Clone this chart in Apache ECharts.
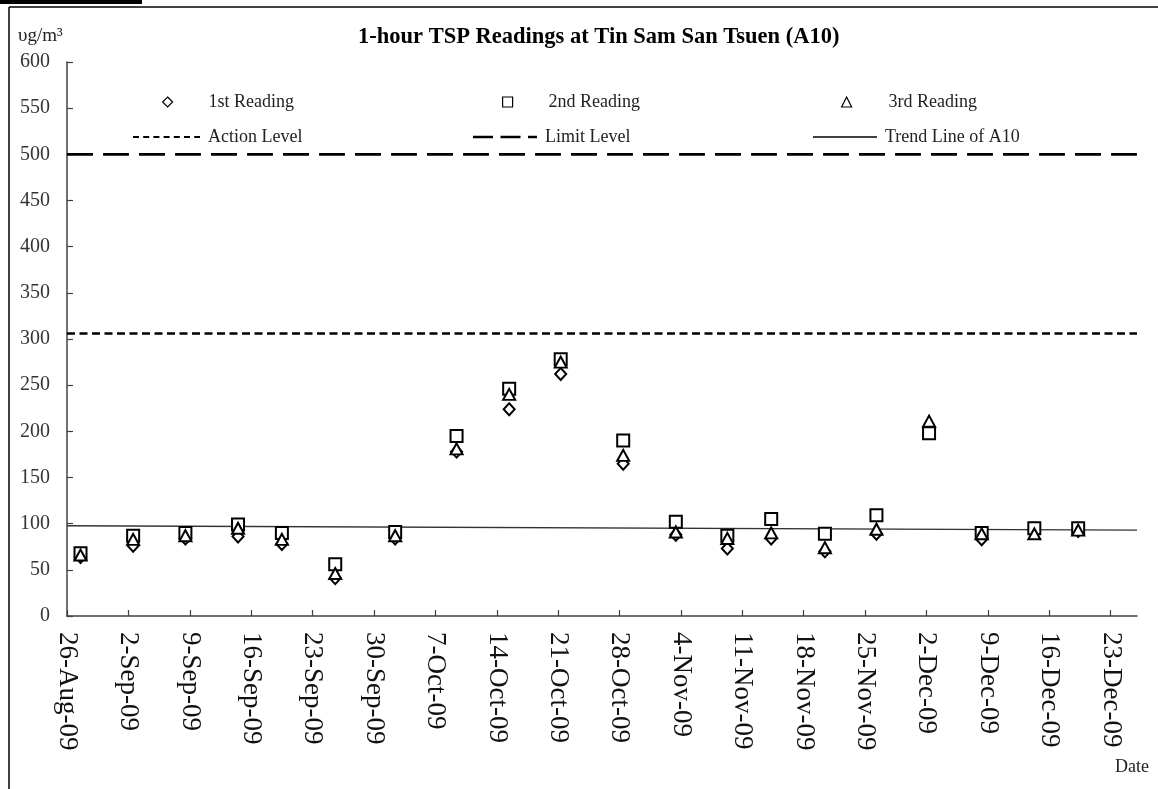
<!DOCTYPE html>
<html>
<head>
<meta charset="utf-8">
<title>1-hour TSP Readings at Tin Sam San Tsuen (A10)</title>
<script src="https://cdn.jsdelivr.net/npm/echarts@6/dist/echarts.min.js"></script>
<style>
  html, body { margin: 0; padding: 0; background: #fff; }
  #chart { width: 1158px; height: 789px; }
</style>
</head>
<body>
<div id="chart"></div>
<script>
// axis starts on 26-Aug-09, one tick per week
var startDate = '2009-08-26T00:00:00Z';
var endDay = 122;
var tickLabels = ['26-Aug-09', '2-Sep-09', '9-Sep-09', '16-Sep-09', '23-Sep-09', '30-Sep-09',
    '7-Oct-09', '14-Oct-09', '21-Oct-09', '28-Oct-09', '4-Nov-09', '11-Nov-09', '18-Nov-09',
    '25-Nov-09', '2-Dec-09', '9-Dec-09', '16-Dec-09', '23-Dec-09'];

var sampleTimes = ['2009-08-27T13:00', '2009-09-02T13:00', '2009-09-08T12:00', '2009-09-14T12:00',
    '2009-09-19T12:00', '2009-09-25T14:00', '2009-10-02T10:00', '2009-10-09T10:00',
    '2009-10-15T10:00', '2009-10-21T07:00', '2009-10-28T10:00', '2009-11-03T10:00',
    '2009-11-09T07:00', '2009-11-14T07:00', '2009-11-20T10:00', '2009-11-26T07:00',
    '2009-12-02T07:00', '2009-12-08T07:00', '2009-12-14T07:00', '2009-12-19T07:00'];
var reading1 = [64, 76, 84, 86, 78, 41, 84, 178, 224, 262, 165, 88, 73, 84, 70, 89, 200, 83, 92, 92];
var reading2 = [68, 87, 90, 99, 90, 56, 91, 195, 246, 278, 190, 102, 87, 105, 89, 109, 198, 90, 95, 95];
var reading3 = [66, 83, 87, 95, 83, 46, 87, 181, 240, 275, 174, 91, 84, 90, 74, 94, 211, 89, 89, 93];

var actionLevel = 306;
var limitLevel = 500;
var trendStart = 97.8;
var trendEnd = 93;

var font = 'Liberation Serif';

function toDay(t) {
    return (Date.parse(t + (t.length > 16 ? 'Z' : ':00Z')) - Date.parse(startDate)) / 86400000;
}

function points(values) {
    return values.map(function (v, i) {
        return [toDay(sampleTimes[i]), v];
    });
}

function dashIcon(w, dash, gap, h) {
    var p = '';
    for (var x = 0; x < w; x += dash + gap) {
        var len = Math.min(dash, w - x);
        p += 'M' + x + ' 0h' + len + 'v' + h + 'h-' + len + 'z';
    }
    return 'path://' + p;
}

var tickDays = tickLabels.map(function (l, i) { return i * 7; });

var legendText = { fontFamily: font, fontSize: 18, color: '#222' };

function markerLegend(name, icon, left, pad) {
    return {
        data: [{ name: name, icon: icon }],
        left: left, top: 93, padding: 0,
        itemWidth: 10, itemHeight: 10,
        selectedMode: false,
        itemStyle: { color: '#fff', borderColor: '#000', borderWidth: 1.2 },
        textStyle: Object.assign({ padding: [0, 0, 0, pad] }, legendText)
    };
}

function lineLegend(name, icon, left, w, h) {
    return {
        data: [{ name: name, icon: icon }],
        left: left, top: 128, padding: 0,
        itemWidth: w, itemHeight: h,
        selectedMode: false,
        itemStyle: { color: '#000', borderWidth: 0 },
        textStyle: Object.assign({ padding: [0, 0, 0, 3] }, legendText)
    };
}

function markerSeries(name, symbol, size, values) {
    return {
        name: name,
        type: 'scatter',
        symbol: symbol,
        symbolSize: size,
        itemStyle: { color: '#fff', borderColor: '#000', borderWidth: 2, opacity: 1 },
        data: points(values),
        z: 5
    };
}

function levelSeries(name, data, type, width, color) {
    return {
        name: name,
        type: 'line',
        symbol: 'none',
        silent: true,
        lineStyle: { color: color, width: width, type: type },
        itemStyle: { color: color },
        data: data,
        z: 3
    };
}

var chart = echarts.init(document.getElementById('chart'));

var option = {
    animation: false,
    backgroundColor: '#fff',
    title: [{
        text: '1-hour TSP Readings at Tin Sam San Tsuen (A10)',
        left: 358, top: 26, padding: 0,
        textStyle: { fontFamily: font, fontWeight: 'bold', fontSize: 22.5, color: '#000' }
    }, {
        text: 'υg/m³',
        left: 18, top: 27, padding: 0,
        textStyle: { fontFamily: font, fontWeight: 'normal', fontSize: 19, color: '#222' }
    }, {
        text: 'Date',
        left: 1115, top: 758, padding: 0,
        textStyle: { fontFamily: font, fontWeight: 'normal', fontSize: 18, color: '#222' }
    }],
    legend: [
        markerLegend('1st Reading', 'diamond', 162, 31),
        markerLegend('2nd Reading', 'rect', 502, 31),
        markerLegend('3rd Reading', 'triangle', 841, 32),
        lineLegend('Action Level', dashIcon(67, 6, 4.2, 2), 133, 67, 2),
        lineLegend('Limit Level', dashIcon(64, 20, 7.5, 2.5), 473, 64, 2.5),
        lineLegend('Trend Line of A10', dashIcon(64, 64, 0, 1.4), 813, 64, 1.4)
    ],
    grid: { left: 67, right: 21, top: 62, bottom: 173, outerBoundsMode: 'none' },
    xAxis: {
        type: 'value',
        min: 0,
        max: endDay,
        splitLine: { show: false },
        axisLine: { lineStyle: { color: '#404040', width: 1.5 } },
        axisTick: { inside: true, length: 6, customValues: tickDays, lineStyle: { color: '#404040', width: 1.2 } },
        axisLabel: {
            rotate: -90,
            margin: 16,
            customValues: tickDays,
            fontFamily: font,
            fontSize: 27,
            color: '#111',
            formatter: function (v) { return tickLabels[Math.round(v / 7)] || ''; }
        }
    },
    yAxis: {
        type: 'value',
        min: 0,
        max: 600,
        interval: 50,
        splitLine: { show: false },
        axisLine: { show: true, lineStyle: { color: '#404040', width: 1.5 } },
        axisTick: { show: true, inside: true, length: 6, lineStyle: { color: '#404040', width: 1.2 } },
        axisLabel: { margin: 17, fontFamily: font, fontSize: 20, color: '#333' }
    },
    series: [
        levelSeries('Limit Level', [[0, limitLevel], [endDay, limitLevel]], [26, 10], 2.8, '#000'),
        levelSeries('Action Level', [[0, actionLevel], [endDay, actionLevel]], [8, 4.5], 2.6, '#000'),
        levelSeries('Trend Line of A10', [[0, trendStart], [endDay, trendEnd]], 'solid', 1.4, '#333'),
        markerSeries('1st Reading', 'diamond', [11, 12], reading1),
        markerSeries('2nd Reading', 'rect', 12, reading2),
        markerSeries('3rd Reading', 'triangle', [12, 11], reading3)
    ],
    graphic: [
        { type: 'rect', shape: { x: 0, y: 0, width: 142, height: 4 }, style: { fill: '#000' } },
        { type: 'line', shape: { x1: 9, y1: 7, x2: 1158, y2: 7 }, style: { stroke: '#000', lineWidth: 1.5 } },
        { type: 'line', shape: { x1: 9, y1: 7, x2: 9, y2: 789 }, style: { stroke: '#000', lineWidth: 1.5 } }
    ]
};

chart.setOption(option);
</script>
</body>
</html>
